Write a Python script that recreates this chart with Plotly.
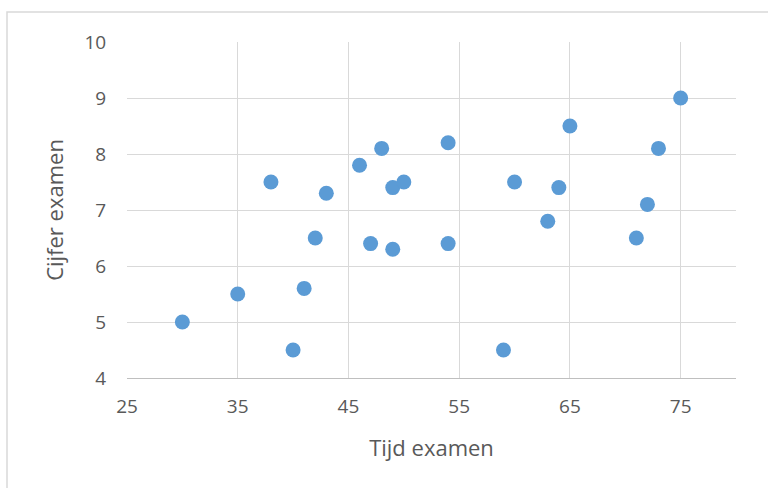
import plotly.graph_objects as go

# Exam duration (minutes) vs. exam grade
tijd = [30, 35, 38, 40, 41, 42, 43, 46, 47, 48, 49, 49, 50, 54, 54, 59, 60, 63, 64, 65, 71, 72, 73, 75]
cijfer = [5.0, 5.5, 7.5, 4.5, 5.6, 6.5, 7.3, 7.8, 6.4, 8.1, 7.4, 6.3, 7.5, 8.2, 6.4, 4.5, 7.5, 6.8, 7.4, 8.5, 6.5, 7.1, 8.1, 9.0]

x_ticks = [25, 35, 45, 55, 65, 75]
y_ticks = [4, 5, 6, 7, 8, 9, 10]

FONT = "Open Sans, sans-serif"
TEXT = "#595959"
GRID = "#d9d9d9"

fig = go.Figure(
    go.Scatter(
        x=tijd,
        y=cijfer,
        mode="markers",
        marker=dict(color="#5b9bd5", size=15, line=dict(width=0)),
        cliponaxis=False,
        showlegend=False,
    )
)

fig.update_xaxes(
    range=[25, 80],
    tickvals=x_ticks,
    showgrid=True,
    gridcolor=GRID,
    gridwidth=1,
    zeroline=False,
    showline=True,
    linecolor="#bfbfbf",
    linewidth=1,
    ticks="outside",
    ticklen=11,
    tickcolor="rgba(0,0,0,0)",
    tickfont=dict(family=FONT, size=19, color=TEXT),
    title=dict(text="Tijd examen", font=dict(family=FONT, size=22, color=TEXT), standoff=22),
)
fig.update_yaxes(
    range=[4, 10],
    tickvals=y_ticks,
    showgrid=True,
    gridcolor=GRID,
    gridwidth=1,
    zeroline=False,
    showline=False,
    ticks="outside",
    ticklen=16,
    tickcolor="rgba(0,0,0,0)",
    tickfont=dict(family=FONT, size=19, color=TEXT),
    title=dict(text="Cijfer examen", font=dict(family=FONT, size=22, color=TEXT), standoff=14),
)

# Chart-area frame around the whole figure
fig.add_shape(
    type="rect",
    xref="paper", yref="paper",
    x0=(7 - 127) / 609, x1=1.2,
    y0=-0.4, y1=1 + 30 / 336,
    line=dict(color="#d9d9d9", width=1.5),
    fillcolor="rgba(0,0,0,0)",
    layer="below",
)

fig.update_layout(
    width=768,
    height=488,
    margin=dict(l=127, r=32, t=42, b=110),
    paper_bgcolor="white",
    plot_bgcolor="white",
    font=dict(family=FONT, color=TEXT),
)

fig.write_html("out.html")
